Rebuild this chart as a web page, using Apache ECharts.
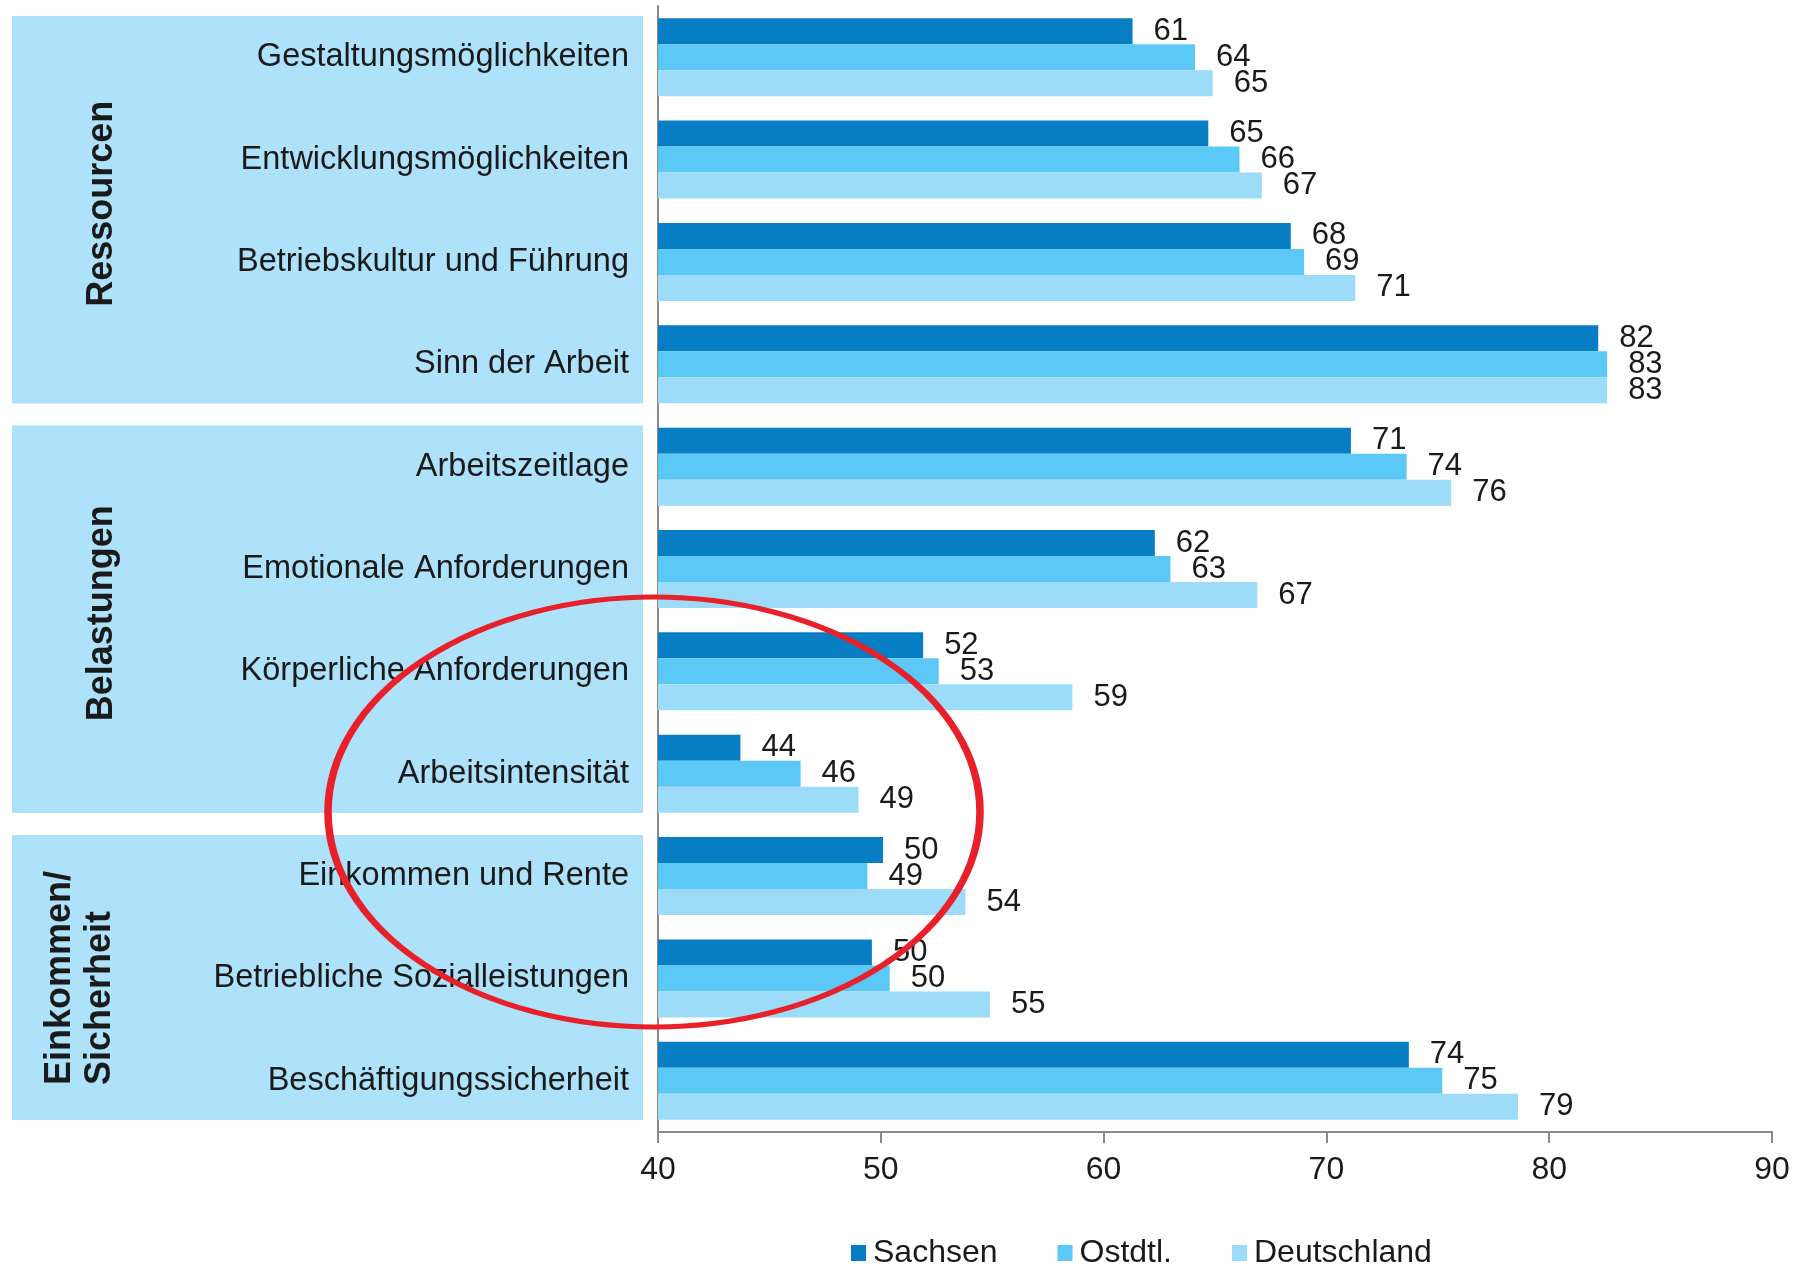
<!DOCTYPE html>
<html>
<head>
<meta charset="utf-8">
<script src="https://cdn.jsdelivr.net/npm/echarts@6/dist/echarts.min.js"></script>
<style>
html,body{margin:0;padding:0;background:#fff;}
#chart{width:1806px;height:1269px;}
</style>
</head>
<body>
<div id="chart"></div>
<script>
// ---- data ----
const categories = ['Gestaltungsmöglichkeiten','Entwicklungsmöglichkeiten','Betriebskultur und Führung','Sinn der Arbeit','Arbeitszeitlage','Emotionale Anforderungen','Körperliche Anforderungen','Arbeitsintensität','Einkommen und Rente','Betriebliche Sozialleistungen','Beschäftigungssicherheit'];
const seriesNames = ['Sachsen','Ostdtl.','Deutschland'];
const sachsen = [61.3,64.7,68.4,82.2,71.1,62.3,51.9,43.7,50.1,49.6,73.7];
const ostdtl = [64.1,66.1,69.0,82.6,73.6,63.0,52.6,46.4,49.4,50.4,75.2];
const deutschland = [64.9,67.1,71.3,82.6,75.6,66.9,58.6,49.0,53.8,54.9,78.6];
const xTicks = [40,50,60,70,80,90];
const groupNames = ['Ressourcen','Belastungen','Einkommen/\nSicherheit'];
const groupFirst = [0,4,8];
const groupLast = [3,7,10];

const colors = ['#077EC4','#5CC8F5','#9DDCF8'];
const FONT = '"Liberation Sans", Arial, sans-serif';
const TXT = '#1a1a1a';

const chart = echarts.init(document.getElementById('chart'), null, {renderer:'canvas'});

function mkSeries(name, data, color){
  return {
    name: name, type:'bar', data: data, barWidth: 26, barGap: '0%',
    itemStyle:{color: color},
    label:{show:true, position:'right', distance: 21, color: TXT, fontFamily: FONT, fontSize: 31,
      formatter: p => String(Math.round(p.value))},
    z: 3
  };
}

chart.setOption({
  animation:false,
  backgroundColor:'#ffffff',
  grid:{left:658, right:34, top:6, bottom:137, containLabel:false},
  legend:{
    data: seriesNames, left: 846, top: 1232, itemWidth: 15, itemHeight: 16, itemGap: 60,
    icon:'rect',
    textStyle:{fontFamily:FONT, fontSize:32, color:TXT, padding:[0,0,0,2]}
  },
  xAxis:{
    type:'value', min: xTicks[0], max: xTicks[xTicks.length-1], interval: 10,
    axisLine:{show:true, lineStyle:{color:'#8a8a8a', width:2}},
    axisTick:{show:true, length:11, lineStyle:{color:'#8a8a8a', width:2}},
    splitLine:{show:false},
    axisLabel:{fontFamily:FONT, fontSize:32, color:TXT, margin:22}
  },
  yAxis:{
    type:'category', data: categories, inverse:true,
    axisLine:{show:true, lineStyle:{color:'#8a8a8a', width:2}},
    axisTick:{show:false},
    axisLabel:{fontFamily:FONT, fontSize:32.5, color:TXT, margin:29}
  },
  series:[
    mkSeries(seriesNames[0], sachsen, colors[0]),
    mkSeries(seriesNames[1], ostdtl, colors[1]),
    mkSeries(seriesNames[2], deutschland, colors[2])
  ]
});

// group boxes and labels, positioned from the category axis
const c0 = chart.convertToPixel({yAxisIndex:0}, categories[0]);
const c1 = chart.convertToPixel({yAxisIndex:0}, categories[1]);
const band = Math.abs(c1 - c0);
const graphics = [];
for (let g = 0; g < groupNames.length; g++) {
  const yA = chart.convertToPixel({yAxisIndex:0}, categories[groupFirst[g]]);
  const yB = chart.convertToPixel({yAxisIndex:0}, categories[groupLast[g]]);
  const top = Math.min(yA,yB) - band/2 + 10;
  const bot = Math.max(yA,yB) + band/2 - 12;
  graphics.push({type:'rect', z:-10, shape:{x:12, y:top, width:631, height:bot-top}, style:{fill:'#AEE1FA'}});
  if (groupNames[g].indexOf('\n') < 0) {
    graphics.push({type:'text', z:5, x:102, y:(top+bot)/2 - 6, rotation:Math.PI/2,
      style:{text:groupNames[g], font:'bold 36px ' + FONT, fill:TXT, align:'center', verticalAlign:'middle'}});
  } else {
    graphics.push({type:'text', z:5, x:80, y:bot - 35, rotation:Math.PI/2,
      style:{text:groupNames[g], font:'bold 36px ' + FONT, lineHeight:40, fill:TXT, align:'left', verticalAlign:'middle'}});
  }
}
// red annotation ellipse
graphics.push({type:'circle', z:100, x:654, y:812, scaleX:326/215, scaleY:1,
  shape:{cx:0, cy:0, r:215}, style:{fill:'none', stroke:'#E8202A', lineWidth:5, strokeNoScale:true}});
chart.setOption({graphic: graphics});
</script>
</body>
</html>
